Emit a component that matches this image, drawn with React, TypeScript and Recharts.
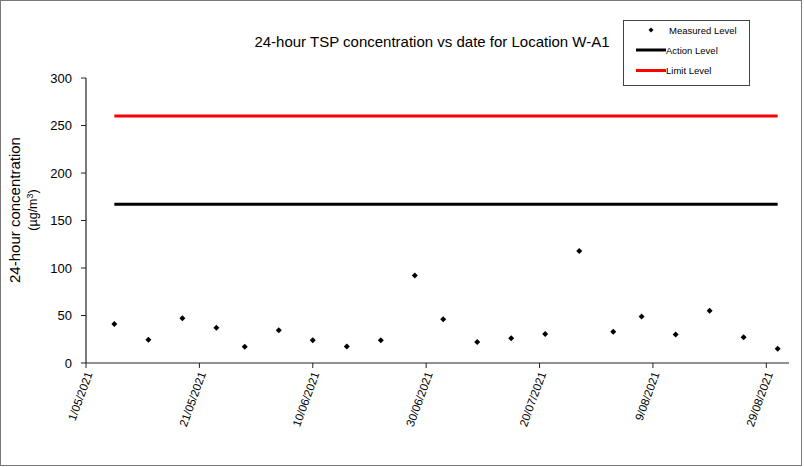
import React from "react";
import {
  ComposedChart,
  Scatter,
  XAxis,
  YAxis,
  ReferenceLine,
} from "recharts";

// ---- Data ----
const measuredDates = [
  "2021-05-06", "2021-05-12", "2021-05-18", "2021-05-24", "2021-05-29",
  "2021-06-04", "2021-06-10", "2021-06-16", "2021-06-22", "2021-06-28",
  "2021-07-03", "2021-07-09", "2021-07-15", "2021-07-21", "2021-07-27",
  "2021-08-02", "2021-08-07", "2021-08-13", "2021-08-19", "2021-08-25",
  "2021-08-31",
];
const measuredValues = [
  41, 24.5, 47, 37, 17, 34.5, 24, 17.5, 24, 92,
  46, 22, 26, 30.5, 118, 33, 49, 30, 55, 27, 15,
];
const actionLevel = 167;
const limitLevel = 260;
const xTickLabels = [
  "1/05/2021", "21/05/2021", "10/06/2021", "30/06/2021",
  "20/07/2021", "9/08/2021", "29/08/2021",
];
const yTicks = [0, 50, 100, 150, 200, 250, 300];
const xStartDate = "2021-05-01";
const xEndDate = "2021-09-02";

const title = "24-hour TSP concentration vs date for Location W-A1";
const yLabel1 = "24-hour concentration";
const yLabel2 = "(\u00b5g/m";
const legendNames = ["Measured Level", "Action Level", "Limit Level"];

// ---- helpers ----
const DAY = 86400000;
const isoToUTC = (s: string) => {
  const [y, m, d] = s.split("-").map(Number);
  return Date.UTC(y, m - 1, d);
};
const base = isoToUTC(xStartDate);
const dayOf = (iso: string) => Math.round((isoToUTC(iso) - base) / DAY);
const dmyToDay = (s: string) => {
  const [d, m, y] = s.split("/").map(Number);
  return Math.round((Date.UTC(y, m - 1, d) - base) / DAY);
};

const measuredData = measuredDates.map((d, i) => ({ x: dayOf(d), y: measuredValues[i] }));
const xTicks = xTickLabels.map(dmyToDay);
const tickLabelByDay: Record<number, string> = {};
xTickLabels.forEach((l, i) => (tickLabelByDay[xTicks[i]] = l));
const firstDay = measuredData[0].x;
const lastDay = measuredData[measuredData.length - 1].x;

const FONT = "'Liberation Sans', Arial, sans-serif";

const Diamond = (props: any) => {
  const { cx, cy } = props;
  if (cx == null || cy == null) return null;
  const r = 3;
  return (
    <polygon
      points={`${cx},${cy - r} ${cx + r},${cy} ${cx},${cy + r} ${cx - r},${cy}`}
      fill="#000"
    />
  );
};

const XTick = (props: any) => {
  const { x, y, payload } = props;
  return (
    <g transform={`translate(${x + 3},${y + 2})`}>
      <text
        x={0}
        y={0}
        dy="0.35em"
        transform="rotate(-70)"
        textAnchor="end"
        fontSize={11.5}
        fontFamily={FONT}
        fill="#000"
      >
        {tickLabelByDay[payload.value] ?? ""}
      </text>
    </g>
  );
};

export default function App() {
  return (
    <div
      style={{
        position: "absolute",
        left: 0,
        top: 0,
        width: 802,
        height: 466,
        border: "1px solid #7a7a7a",
        boxSizing: "border-box",
        background: "#fff",
        overflow: "hidden",
      }}
    >
      <div style={{ position: "absolute", left: -1, top: -1 }}>
        <ComposedChart
          width={804}
          height={467}
          margin={{ top: 78, right: 15, bottom: 44, left: 0 }}
        >
          <XAxis
            type="number"
            dataKey="x"
            domain={[0, dayOf(xEndDate)]}
            ticks={xTicks}
            interval={0}
            height={60}
            tickSize={5}
            tickMargin={2}
            tick={<XTick />}
            axisLine={{ stroke: "#222", strokeWidth: 1.2 }}
            tickLine={{ stroke: "#222" }}
            allowDataOverflow
          />
          <YAxis
            type="number"
            dataKey="y"
            domain={[0, 300]}
            ticks={yTicks}
            interval={0}
            width={86}
            tickSize={5}
            tickMargin={9}
            tick={{ fontSize: 13, fontFamily: FONT, fill: "#000" }}
            axisLine={{ stroke: "#222", strokeWidth: 1.2 }}
            tickLine={{ stroke: "#222" }}
          />
          <ReferenceLine
            segment={[
              { x: firstDay, y: limitLevel },
              { x: lastDay, y: limitLevel },
            ]}
            stroke="#ff0000"
            strokeWidth={3}
          />
          <ReferenceLine
            segment={[
              { x: firstDay, y: actionLevel },
              { x: lastDay, y: actionLevel },
            ]}
            stroke="#000"
            strokeWidth={3}
          />
          <Scatter
            data={measuredData}
            dataKey="y"
            shape={<Diamond />}
            isAnimationActive={false}
          />
        </ComposedChart>
      </div>

      {/* Title, y-label, legend */}
      <svg
        width={804}
        height={467}
        style={{ position: "absolute", left: -1, top: -1, pointerEvents: "none" }}
      >
        <text
          x={432}
          y={47}
          textAnchor="middle"
          fontSize={15}
          fontFamily={FONT}
          fill="#000"
        >
          {title}
        </text>
        <text
          transform="translate(20,210) rotate(-90)"
          textAnchor="middle"
          fontSize={15}
          fontFamily={FONT}
          fill="#000"
        >
          {yLabel1}
        </text>
        <text
          transform="translate(37,210) rotate(-90)"
          textAnchor="middle"
          fontSize={12.5}
          fontFamily={FONT}
          fill="#000"
        >
          {yLabel2}
          <tspan dy={-4} fontSize={9}>3</tspan>
          <tspan dy={4}>)</tspan>
        </text>

        <rect x={623.5} y={20.5} width={126} height={65} fill="#fff" stroke="#444" strokeWidth={1} />
        <polygon points="651,27.5 653.5,30 651,32.5 648.5,30" fill="#000" />
        <text x={669} y={33.5} fontSize={9.5} fontFamily={FONT} fill="#000">
          {legendNames[0]}
        </text>
        <line x1={636} y1={50} x2={666} y2={50} stroke="#000" strokeWidth={3} />
        <text x={666} y={53.5} fontSize={9.5} fontFamily={FONT} fill="#000">
          {legendNames[1]}
        </text>
        <line x1={636} y1={70.5} x2={666} y2={70.5} stroke="#ff0000" strokeWidth={3} />
        <text x={666} y={74} fontSize={9.5} fontFamily={FONT} fill="#000">
          {legendNames[2]}
        </text>
      </svg>
    </div>
  );
}
